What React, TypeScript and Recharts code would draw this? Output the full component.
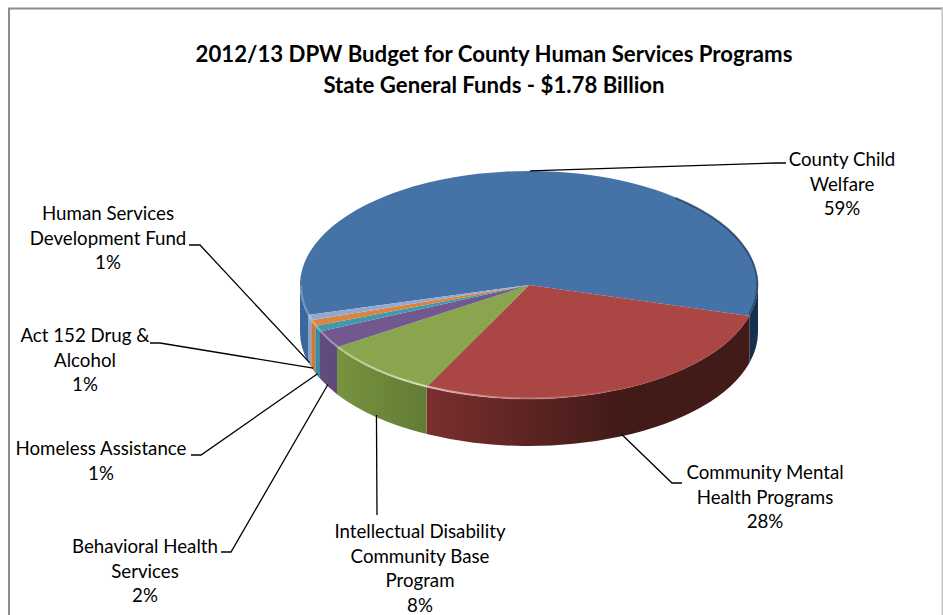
import { PieChart, Pie, Cell } from "recharts";

const CATEGORIES = [
  "County Child Welfare",
  "Community Mental Health Programs",
  "Intellectual Disability Community Base Program",
  "Behavioral Health Services",
  "Homeless Assistance",
  "Act 152 Drug & Alcohol",
  "Human Services Development Fund",
];
// the labels show them rounded
const SHARES = [58.6, 28, 8.45, 2.47, 0.86, 0.84, 0.78];
const TITLE_LINES = ["2012/13 DPW Budget for County Human Services Programs", "State General Funds - $1.78 Billion"];
const LABEL_LINES = [
  ["County Child", "Welfare"],
  ["Community Mental", "Health Programs"],
  ["Intellectual Disability", "Community Base", "Program"],
  ["Behavioral Health", "Services"],
  ["Homeless Assistance"],
  ["Act 152 Drug &", "Alcohol"],
  ["Human Services", "Development Fund"],
];

const COLORS = ["#4572a7", "#aa4643", "#89a54e", "#71588f", "#4198af", "#db843d", "#93a9cf"];
const WALL_FROM = ["#16304e", "#7a2f2e", "#76933f", "#664d80", "#3a8ea6", "#d27a30", "#8ba4d0"];
const WALL_TO = ["#16304e", "#421a18", "#627c36", "#604a7b", "#37889f", "#cc7530", "#86a0cc"];
const WALL_X1 = [300, 427, 337, 300, 300, 300, 300];
const WALL_X2 = [758, 620, 427, 340, 340, 340, 340];

// label layout: text centre x, first line centre y, elbow and end of the leader line
const LABEL_BOX = [
  { x: 842, y: 160, ex: 776, ey: 163, lx: 786 },
  { x: 765, y: 473, ex: 672, ey: 483, lx: 682 },
  { x: 420, y: 532, ex: 377, ey: 515, lx: 377 },
  { x: 145, y: 547, ex: 231, ey: 552, lx: 221 },
  { x: 101, y: 449, ex: 201, ey: 455, lx: 191 },
  { x: 85, y: 336, ex: 160, ey: 343, lx: 150 },
  { x: 108, y: 214, ex: 200, ey: 245, lx: 189 },
];

const data = CATEGORIES.map((name, i) => ({ name, value: SHARES[i] }));

const CX = 529;
const CY = 285;
const RX = 229;
const SQUASH = 0.498;
const DEPTH = 47;
const FIRST_ANGLE = 195.2;
const FONT = "Lato, Carlito, sans-serif";
const RAD = Math.PI / 180;

const rimPoint = (cx: number, cy: number, r: number, deg: number) => ({
  x: cx + r * Math.cos(deg * RAD),
  y: cy - r * SQUASH * Math.sin(deg * RAD),
});

// Pie sector flattened to an ellipse, with the wall under its front rim
function TiltedSector(props: any) {
  const { cx, cy, outerRadius: r, startAngle, endAngle, fill } = props;
  const i = COLORS.indexOf(fill);
  const ry = r * SQUASH;
  const a = rimPoint(cx, cy, r, startAngle);
  const b = rimPoint(cx, cy, r, endAngle);
  const large = Math.abs(startAngle - endAngle) > 180 ? 1 : 0;
  const top = `M${cx},${cy} L${a.x},${a.y} A${r},${ry} 0 ${large} 1 ${b.x},${b.y} Z`;

  // front part of the rim is where sin(angle) < 0, angles here run downward
  const walls: [number, number][] = [];
  [[0, -180], [360, 180]].forEach(([s, e]) => {
    const from = Math.min(startAngle, s);
    const to = Math.max(endAngle, e);
    if (from > to) walls.push([from, to]);
  });

  return (
    <g>
      {walls.map(([s, e], k) => {
        const p = rimPoint(cx, cy, r, s);
        const q = rimPoint(cx, cy, r, e);
        const arcLarge = s - e > 180 ? 1 : 0;
        const d =
          `M${p.x},${p.y} A${r},${ry} 0 ${arcLarge} 1 ${q.x},${q.y} ` +
          `L${q.x},${q.y + DEPTH} A${r},${ry} 0 ${arcLarge} 0 ${p.x},${p.y + DEPTH} Z`;
        const grad = i === 0 && s > 90 ? "url(#wallBlueLeft)" : `url(#wall${i})`;
        return <path key={k} d={d} fill={grad} />;
      })}
      <path d={top} fill={fill} />
      {walls.map(([s, e], k) => {
        const p = rimPoint(cx, cy, r - 1, s);
        const q = rimPoint(cx, cy, r - 1, e);
        const d = `M${p.x},${p.y} A${r - 1},${ry - 1} 0 0 1 ${q.x},${q.y}`;
        return <path key={k} d={d} fill="none" stroke="url(#rimShine)" strokeWidth={2} />;
      })}
      {i === 0 && (
        <path
          d={`M${rimPoint(cx, cy, r - 1, 50).x},${rimPoint(cx, cy, r - 1, 50).y} A${r - 1},${ry - 1} 0 0 1 ${rimPoint(cx, cy, r - 1, -15).x},${rimPoint(cx, cy, r - 1, -15).y}`}
          fill="none"
          stroke="#16304e"
          strokeOpacity={0.55}
          strokeWidth={2}
        />
      )}
    </g>
  );
}

function LeaderLabel(props: any) {
  const { cx, cy, outerRadius: r, midAngle, index, value } = props;
  const box = LABEL_BOX[index];
  const lines = [...LABEL_LINES[index], `${Math.round(value)}%`];
  const start = rimPoint(cx, cy, r, midAngle);
  // leaders leave from the foot of the wall, except the top one at the back of the pie
  const sy = Math.sin(midAngle * RAD) > 0 ? start.y : start.y + DEPTH - 2;
  return (
    <g>
      <polyline
        points={`${start.x},${sy} ${box.ex},${box.ey} ${box.lx},${box.ey}`}
        fill="none"
        stroke="#000"
        strokeWidth={1.3}
      />
      {lines.map((line, k) => (
        <text
          key={k}
          x={box.x}
          y={box.y + k * 24.6 + 6}
          textAnchor="middle"
          fontFamily={FONT}
          fontSize={18.7}
          fill="#000"
        >
          {line}
        </text>
      ))}
    </g>
  );
}

export default function App() {
  return (
    <div style={{ position: "absolute", left: 0, top: 0, width: 943, height: 615, overflow: "hidden", background: "#fff" }}>
      <PieChart width={943} height={615} margin={{ top: 0, right: 0, bottom: 0, left: 0 }}>
        <defs>
          {WALL_FROM.map((c, i) => (
            <linearGradient key={i} id={`wall${i}`} gradientUnits="userSpaceOnUse" x1={WALL_X1[i]} x2={WALL_X2[i]} y1={0} y2={0}>
              <stop offset="0" stopColor={c} />
              <stop offset="1" stopColor={WALL_TO[i]} />
            </linearGradient>
          ))}
          <linearGradient id="wallBlueLeft" gradientUnits="userSpaceOnUse" x1={300} x2={320} y1={0} y2={0}>
            <stop offset="0" stopColor="#3a6698" />
            <stop offset="1" stopColor="#3f6da3" />
          </linearGradient>
          <linearGradient id="rimShine" gradientUnits="userSpaceOnUse" x1={300} x2={640} y1={0} y2={0}>
            <stop offset="0" stopColor="#fff" stopOpacity={0.2} />
            <stop offset="0.37" stopColor="#fff" stopOpacity={0.6} />
            <stop offset="0.6" stopColor="#fff" stopOpacity={0.3} />
            <stop offset="1" stopColor="#fff" stopOpacity={0} />
          </linearGradient>
        </defs>
        <path d="M9,615 L9,8.5 L943,8.5" fill="none" stroke="#8c8c8c" strokeWidth={2} />
        <line x1={942.5} y1={8} x2={942.5} y2={615} stroke="#c4c4c4" strokeWidth={2} />
        {TITLE_LINES.map((line, k) => (
          <text key={k} x={494} y={62 + k * 31} textAnchor="middle" fontFamily={FONT} fontWeight={700} fontSize={22.2} fill="#000">
            {line}
          </text>
        ))}
        <Pie
          data={data}
          dataKey="value"
          nameKey="name"
          cx={CX}
          cy={CY}
          innerRadius={0}
          outerRadius={RX}
          startAngle={FIRST_ANGLE}
          endAngle={FIRST_ANGLE - 360}
          stroke="none"
          isAnimationActive={false}
          shape={TiltedSector}
          label={LeaderLabel}
          labelLine={false}
        >
          {data.map((_, i) => (
            <Cell key={i} fill={COLORS[i]} />
          ))}
        </Pie>
      </PieChart>
    </div>
  );
}
